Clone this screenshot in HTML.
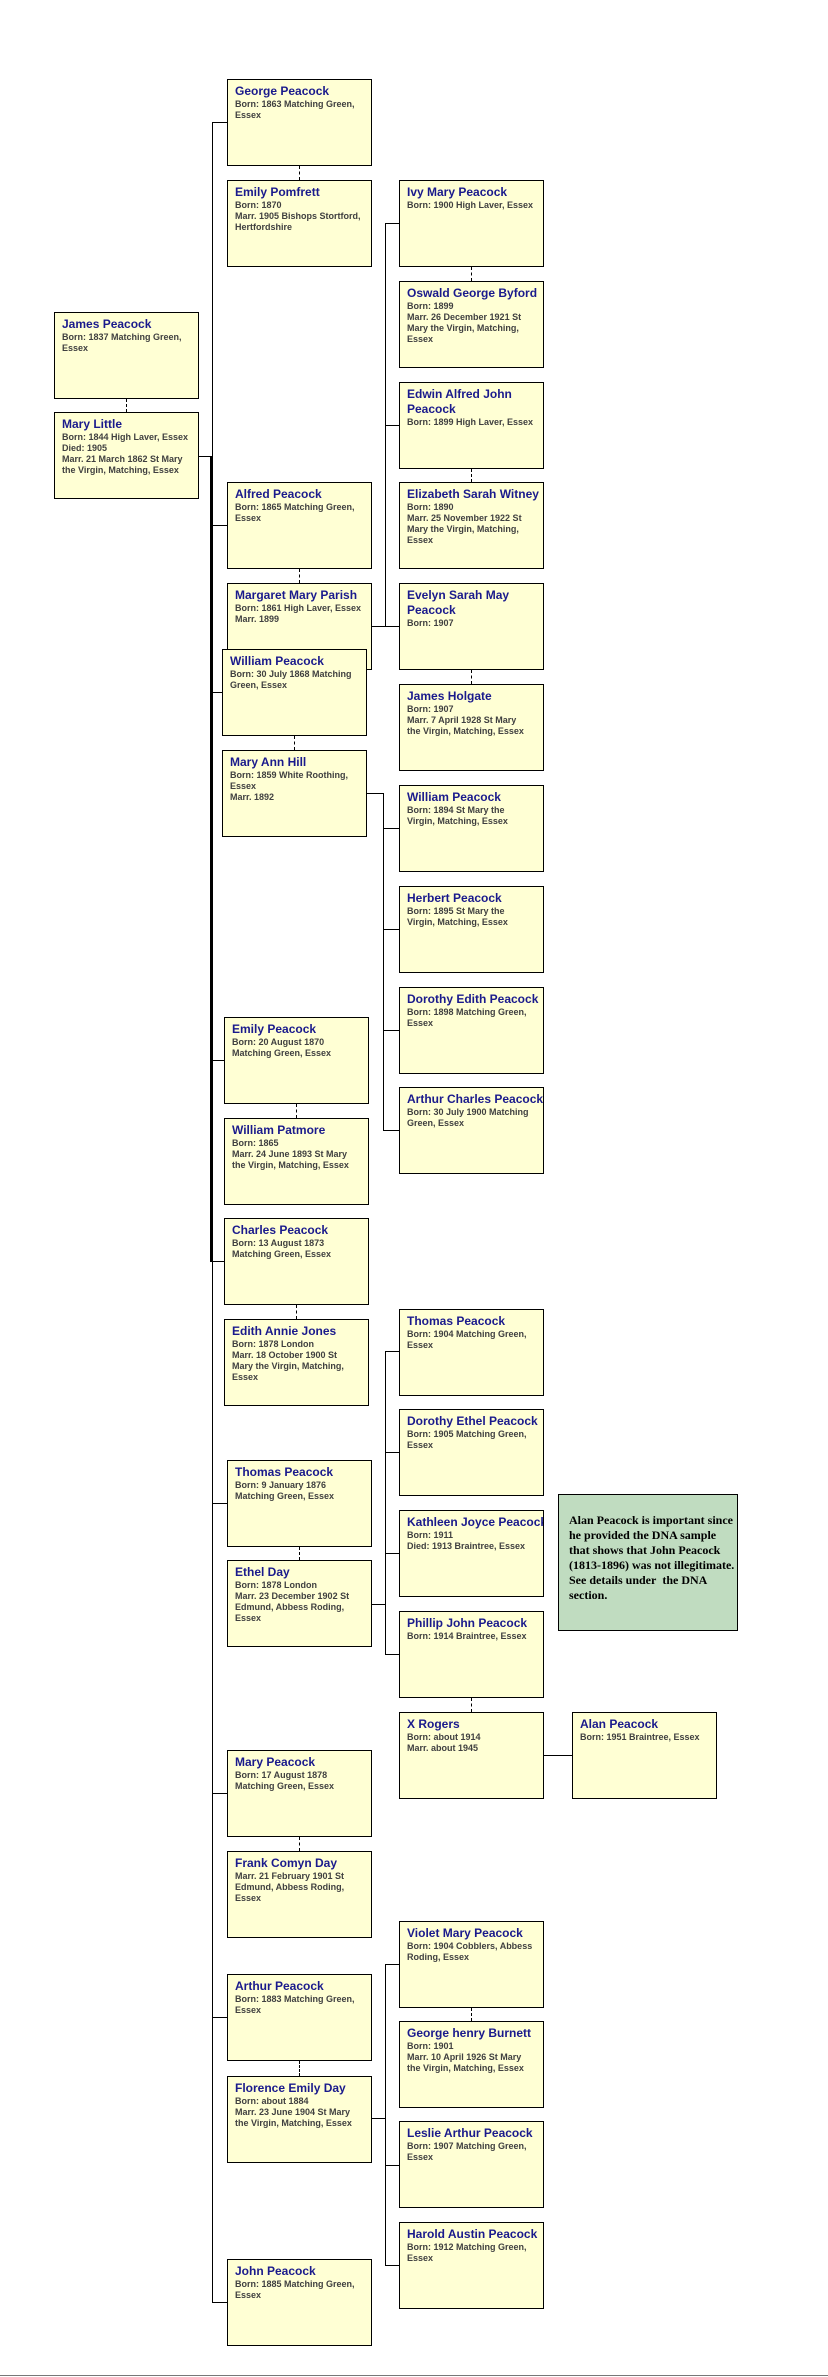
<!DOCTYPE html>
<html><head><meta charset="utf-8">
<style>
html,body{margin:0;padding:0;background:#fff;}
body{width:828px;height:2377px;position:relative;overflow:hidden;font-family:"Liberation Sans",Arial,sans-serif;}
.b{position:absolute;width:145px;height:87px;box-sizing:border-box;border:1px solid #000;background:#ffffd4;padding:4px 0 0 7px;overflow:hidden;white-space:nowrap;}
.n{color:#1a1a8c;font-weight:bold;font-size:12px;line-height:15px;}
.d{color:#404040;font-weight:bold;font-size:9px;line-height:11px;}
.l{position:absolute;background:#000;}
.dv{position:absolute;width:0;border-left:1px dashed #000;}
.note{position:absolute;left:558px;top:1494px;width:180px;height:137px;box-sizing:border-box;border:1px solid #000;background:#c0dcc0;padding:18px 0 0 10px;font-family:"Liberation Serif",serif;font-weight:bold;font-size:12px;line-height:15px;color:#000;white-space:nowrap;overflow:hidden;}
</style></head><body>

<!-- gen1 -->
<div class="b" style="left:54px;top:312px"><div class="n">James Peacock</div><div class="d">Born: 1837 Matching Green,<br>Essex</div></div>
<div class="dv" style="left:126px;top:399px;height:13px"></div>
<div class="b" style="left:54px;top:412px"><div class="n">Mary Little</div><div class="d">Born: 1844 High Laver, Essex<br>Died: 1905<br>Marr. 21 March 1862 St Mary<br>the Virgin, Matching, Essex</div></div>

<!-- main lines -->
<div class="l" style="left:198px;top:456px;width:14px;height:1px"></div>
<div class="l" style="left:212px;top:122px;width:1px;height:2180px"></div>
<div class="l" style="left:210px;top:456px;width:3px;height:806px"></div>
<div class="l" style="left:212px;top:122px;width:15px;height:1px"></div>
<div class="l" style="left:212px;top:525px;width:15px;height:1px"></div>
<div class="l" style="left:212px;top:692px;width:10px;height:1px"></div>
<div class="l" style="left:212px;top:1060px;width:12px;height:1px"></div>
<div class="l" style="left:212px;top:1261px;width:12px;height:1px"></div>
<div class="l" style="left:212px;top:1503px;width:15px;height:1px"></div>
<div class="l" style="left:212px;top:1793px;width:15px;height:1px"></div>
<div class="l" style="left:212px;top:2017px;width:15px;height:1px"></div>
<div class="l" style="left:212px;top:2302px;width:15px;height:1px"></div>

<!-- gen2 -->
<div class="b" style="left:227px;top:79px"><div class="n">George Peacock</div><div class="d">Born: 1863 Matching Green,<br>Essex</div></div>
<div class="dv" style="left:299px;top:166px;height:14px"></div>
<div class="b" style="left:227px;top:180px"><div class="n">Emily Pomfrett</div><div class="d">Born: 1870<br>Marr. 1905 Bishops Stortford,<br>Hertfordshire</div></div>

<div class="b" style="left:227px;top:482px"><div class="n">Alfred Peacock</div><div class="d">Born: 1865 Matching Green,<br>Essex</div></div>
<div class="dv" style="left:299px;top:569px;height:14px"></div>
<div class="b" style="left:227px;top:583px"><div class="n">Margaret Mary Parish</div><div class="d">Born: 1861 High Laver, Essex<br>Marr. 1899</div></div>

<div class="b" style="left:222px;top:649px"><div class="n">William Peacock</div><div class="d">Born: 30 July 1868 Matching<br>Green, Essex</div></div>
<div class="dv" style="left:294px;top:736px;height:14px"></div>
<div class="b" style="left:222px;top:750px"><div class="n">Mary Ann Hill</div><div class="d">Born: 1859 White Roothing,<br>Essex<br>Marr. 1892</div></div>

<div class="b" style="left:224px;top:1017px"><div class="n">Emily Peacock</div><div class="d">Born: 20 August 1870<br>Matching Green, Essex</div></div>
<div class="dv" style="left:296px;top:1104px;height:14px"></div>
<div class="b" style="left:224px;top:1118px"><div class="n">William Patmore</div><div class="d">Born: 1865<br>Marr. 24 June 1893 St Mary<br>the Virgin, Matching, Essex</div></div>

<div class="b" style="left:224px;top:1218px"><div class="n">Charles Peacock</div><div class="d">Born: 13 August 1873<br>Matching Green, Essex</div></div>
<div class="dv" style="left:296px;top:1305px;height:14px"></div>
<div class="b" style="left:224px;top:1319px"><div class="n">Edith Annie Jones</div><div class="d">Born: 1878 London<br>Marr. 18 October 1900 St<br>Mary the Virgin, Matching,<br>Essex</div></div>

<div class="b" style="left:227px;top:1460px"><div class="n">Thomas Peacock</div><div class="d">Born: 9 January 1876<br>Matching Green, Essex</div></div>
<div class="dv" style="left:299px;top:1547px;height:13px"></div>
<div class="b" style="left:227px;top:1560px"><div class="n">Ethel Day</div><div class="d">Born: 1878 London<br>Marr. 23 December 1902 St<br>Edmund, Abbess Roding,<br>Essex</div></div>

<div class="b" style="left:227px;top:1750px"><div class="n">Mary Peacock</div><div class="d">Born: 17 August 1878<br>Matching Green, Essex</div></div>
<div class="dv" style="left:299px;top:1837px;height:14px"></div>
<div class="b" style="left:227px;top:1851px"><div class="n">Frank Comyn Day</div><div class="d">Marr. 21 February 1901 St<br>Edmund, Abbess Roding,<br>Essex</div></div>

<div class="b" style="left:227px;top:1974px"><div class="n">Arthur Peacock</div><div class="d">Born: 1883 Matching Green,<br>Essex</div></div>
<div class="dv" style="left:299px;top:2061px;height:15px"></div>
<div class="b" style="left:227px;top:2076px"><div class="n">Florence Emily Day</div><div class="d">Born: about 1884<br>Marr. 23 June 1904 St Mary<br>the Virgin, Matching, Essex</div></div>

<div class="b" style="left:227px;top:2259px"><div class="n">John Peacock</div><div class="d">Born: 1885 Matching Green,<br>Essex</div></div>

<!-- gen3 connectors -->
<div class="l" style="left:385px;top:223px;width:1px;height:404px"></div>
<div class="l" style="left:372px;top:626px;width:27px;height:1px"></div>
<div class="l" style="left:385px;top:223px;width:14px;height:1px"></div>
<div class="l" style="left:385px;top:425px;width:14px;height:1px"></div>

<div class="l" style="left:383px;top:793px;width:1px;height:338px"></div>
<div class="l" style="left:366px;top:793px;width:17px;height:1px"></div>
<div class="l" style="left:383px;top:828px;width:16px;height:1px"></div>
<div class="l" style="left:383px;top:929px;width:16px;height:1px"></div>
<div class="l" style="left:383px;top:1030px;width:16px;height:1px"></div>
<div class="l" style="left:383px;top:1130px;width:16px;height:1px"></div>

<div class="l" style="left:385px;top:1351px;width:1px;height:304px"></div>
<div class="l" style="left:372px;top:1604px;width:13px;height:1px"></div>
<div class="l" style="left:385px;top:1351px;width:14px;height:1px"></div>
<div class="l" style="left:385px;top:1452px;width:14px;height:1px"></div>
<div class="l" style="left:385px;top:1553px;width:14px;height:1px"></div>
<div class="l" style="left:385px;top:1654px;width:14px;height:1px"></div>

<div class="l" style="left:385px;top:1964px;width:1px;height:302px"></div>
<div class="l" style="left:372px;top:2118px;width:13px;height:1px"></div>
<div class="l" style="left:385px;top:1964px;width:14px;height:1px"></div>
<div class="l" style="left:385px;top:2165px;width:14px;height:1px"></div>
<div class="l" style="left:385px;top:2265px;width:14px;height:1px"></div>

<div class="l" style="left:543px;top:1755px;width:29px;height:1px"></div>

<!-- gen3 -->
<div class="b" style="left:399px;top:180px"><div class="n">Ivy Mary Peacock</div><div class="d">Born: 1900 High Laver, Essex</div></div>
<div class="dv" style="left:471px;top:267px;height:14px"></div>
<div class="b" style="left:399px;top:281px"><div class="n">Oswald George Byford</div><div class="d">Born: 1899<br>Marr. 26 December 1921 St<br>Mary the Virgin, Matching,<br>Essex</div></div>
<div class="b" style="left:399px;top:382px;white-space:normal"><div class="n">Edwin Alfred John<br>Peacock</div><div class="d">Born: 1899 High Laver, Essex</div></div>
<div class="dv" style="left:471px;top:469px;height:13px"></div>
<div class="b" style="left:399px;top:482px"><div class="n">Elizabeth Sarah Witney</div><div class="d">Born: 1890<br>Marr. 25 November 1922 St<br>Mary the Virgin, Matching,<br>Essex</div></div>
<div class="b" style="left:399px;top:583px"><div class="n">Evelyn Sarah May<br>Peacock</div><div class="d">Born: 1907</div></div>
<div class="dv" style="left:471px;top:670px;height:14px"></div>
<div class="b" style="left:399px;top:684px"><div class="n">James Holgate</div><div class="d">Born: 1907<br>Marr. 7 April 1928 St Mary<br>the Virgin, Matching, Essex</div></div>
<div class="b" style="left:399px;top:785px"><div class="n">William Peacock</div><div class="d">Born: 1894 St Mary the<br>Virgin, Matching, Essex</div></div>
<div class="b" style="left:399px;top:886px"><div class="n">Herbert Peacock</div><div class="d">Born: 1895 St Mary the<br>Virgin, Matching, Essex</div></div>
<div class="b" style="left:399px;top:987px"><div class="n">Dorothy Edith Peacock</div><div class="d">Born: 1898 Matching Green,<br>Essex</div></div>
<div class="b" style="left:399px;top:1087px"><div class="n">Arthur Charles Peacock</div><div class="d">Born: 30 July 1900 Matching<br>Green, Essex</div></div>

<div class="b" style="left:399px;top:1309px"><div class="n">Thomas Peacock</div><div class="d">Born: 1904 Matching Green,<br>Essex</div></div>
<div class="b" style="left:399px;top:1409px"><div class="n">Dorothy Ethel Peacock</div><div class="d">Born: 1905 Matching Green,<br>Essex</div></div>
<div class="b" style="left:399px;top:1510px"><div class="n">Kathleen Joyce Peacock</div><div class="d">Born: 1911<br>Died: 1913 Braintree, Essex</div></div>
<div class="b" style="left:399px;top:1611px"><div class="n">Phillip John Peacock</div><div class="d">Born: 1914 Braintree, Essex</div></div>
<div class="dv" style="left:471px;top:1698px;height:14px"></div>
<div class="b" style="left:399px;top:1712px"><div class="n">X Rogers</div><div class="d">Born: about 1914<br>Marr. about 1945</div></div>
<div class="b" style="left:572px;top:1712px"><div class="n">Alan Peacock</div><div class="d">Born: 1951 Braintree, Essex</div></div>

<div class="b" style="left:399px;top:1921px"><div class="n">Violet Mary Peacock</div><div class="d">Born: 1904 Cobblers, Abbess<br>Roding, Essex</div></div>
<div class="dv" style="left:471px;top:2008px;height:13px"></div>
<div class="b" style="left:399px;top:2021px"><div class="n">George henry Burnett</div><div class="d">Born: 1901<br>Marr. 10 April 1926 St Mary<br>the Virgin, Matching, Essex</div></div>
<div class="b" style="left:399px;top:2121px"><div class="n">Leslie Arthur Peacock</div><div class="d">Born: 1907 Matching Green,<br>Essex</div></div>
<div class="b" style="left:399px;top:2222px"><div class="n">Harold Austin Peacock</div><div class="d">Born: 1912 Matching Green,<br>Essex</div></div>

<div class="note">Alan Peacock is important since<br>he provided the DNA sample<br>that shows that John Peacock<br>(1813-1896) was not illegitimate.<br>See details under&nbsp; the DNA<br>section.</div>

<div class="l" style="left:0;top:2375px;width:828px;height:1px;background:#777"></div>
</body></html>
